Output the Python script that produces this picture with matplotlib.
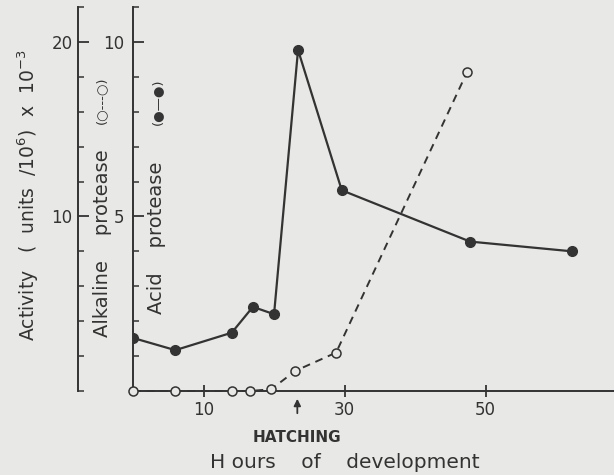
import matplotlib
matplotlib.use("Agg")
import matplotlib.pyplot as plt
from matplotlib.ticker import MultipleLocator, FixedLocator

# hours of development
acid_hours = [0, 6, 14, 17, 20, 23.4, 29.6, 47.8, 62.3]
acid_values = [1.52, 1.17, 1.67, 2.41, 2.2, 9.77, 5.75, 4.28, 4.0]

alk_hours = [0, 6, 14, 16.6, 19.6, 23, 28.8, 47.4]
alk_values = [0, 0, 0, 0, 0.1, 1.15, 2.2, 18.3]

x_ticks = [10, 30, 50]
hatching_hour = 23.3

ink = '#333333'
bg = '#e8e8e6'

plt.rcParams['font.family'] = 'DejaVu Sans'
fig = plt.figure(figsize=(6.14, 4.75), dpi=100, facecolor=bg)
ax = fig.add_axes([133/614, 84/475, 1 - 133/614, 384/475])
ax.set_facecolor('none')
ax2 = ax.twinx()
ax2.set_facecolor('none')

# acid protease (inner axis)
ax.plot(acid_hours, acid_values, '-o', color=ink, lw=1.6, ms=7,
        mfc=ink, mec=ink, zorder=3)
ax.set_xlim(0, 68.2)
ax.set_ylim(0, 11.0)

# alkaline protease (outer axis)
ax2.plot(alk_hours, alk_values, '--o', color=ink, lw=1.4, ms=6.5,
         mfc=bg, mec=ink, mew=1.1, dashes=(4, 3), zorder=3, clip_on=False)
ax2.set_ylim(0, 22.0)

for a in (ax, ax2):
    a.spines['top'].set_visible(False)
    a.spines['right'].set_visible(False)
ax2.spines['bottom'].set_visible(False)
ax2.spines['left'].set_visible(True)
ax2.spines['left'].set_position(('outward', 39.6))
ax2.yaxis.set_ticks_position('left')
ax2.yaxis.set_label_position('left')
for a in (ax, ax2):
    for s in a.spines.values():
        s.set_color(ink)
        s.set_linewidth(1.4)

ax.yaxis.set_major_locator(FixedLocator([5, 10]))
ax.yaxis.set_minor_locator(MultipleLocator(1))
ax2.yaxis.set_major_locator(FixedLocator([10, 20]))
ax2.yaxis.set_minor_locator(MultipleLocator(2))
ax.xaxis.set_major_locator(FixedLocator(x_ticks))
ax.xaxis.set_minor_locator(FixedLocator([]))

ax.tick_params(axis='y', which='major', direction='in', length=8, width=1.3,
               color=ink, labelcolor=ink, labelsize=12, pad=6)
ax.tick_params(axis='y', which='minor', direction='in', length=4, width=1.1,
               color=ink)
ax2.tick_params(axis='y', which='major', direction='in', length=8, width=1.3,
                color=ink, labelcolor=ink, labelsize=12, pad=4)
ax2.tick_params(axis='y', which='minor', direction='in', length=4, width=1.1,
                color=ink)
ax.tick_params(axis='x', which='major', direction='inout', length=9, width=1.3,
               color=ink, labelcolor=ink, labelsize=12, pad=3)

# axis labels
fig.text(28/614, 1 - 195/475, 'Activity   (  units  /10$^6$)  x  10$^{-3}$',
         rotation=90, ha='center', va='center', fontsize=13.5, color=ink)
fig.text(102/614, 1 - 243/475, 'Alkaline    protease',
         rotation=90, ha='center', va='center', fontsize=14, color=ink)
fig.text(102/614, 1 - 100/475, '(○---○)',
         rotation=90, ha='center', va='center', fontsize=9.5, color=ink)
fig.text(157/614, 1 - 238/475, 'Acid    protease',
         rotation=90, ha='center', va='center', fontsize=14, color=ink)
fig.text(157/614, 1 - 102/475, '(●—●)',
         rotation=90, ha='center', va='center', fontsize=9.5, color=ink)

# hatching marker
ax.annotate('', xy=(hatching_hour, 1 - 396/475), xycoords=('data', 'figure fraction'),
            xytext=(hatching_hour, 1 - 416/475), textcoords=('data', 'figure fraction'),
            arrowprops=dict(arrowstyle='-|>', color=ink, lw=1.3, mutation_scale=10))
ax.annotate('HATCHING', xy=(hatching_hour, 1 - 437/475),
            xycoords=('data', 'figure fraction'), ha='center', va='center',
            fontsize=11, color=ink, fontweight='bold')
fig.text(345/614, 1 - 462/475, 'H ours    of    development', ha='center',
         va='center', fontsize=14.5, color=ink)

fig.savefig('out.png', dpi=100, facecolor=bg)
